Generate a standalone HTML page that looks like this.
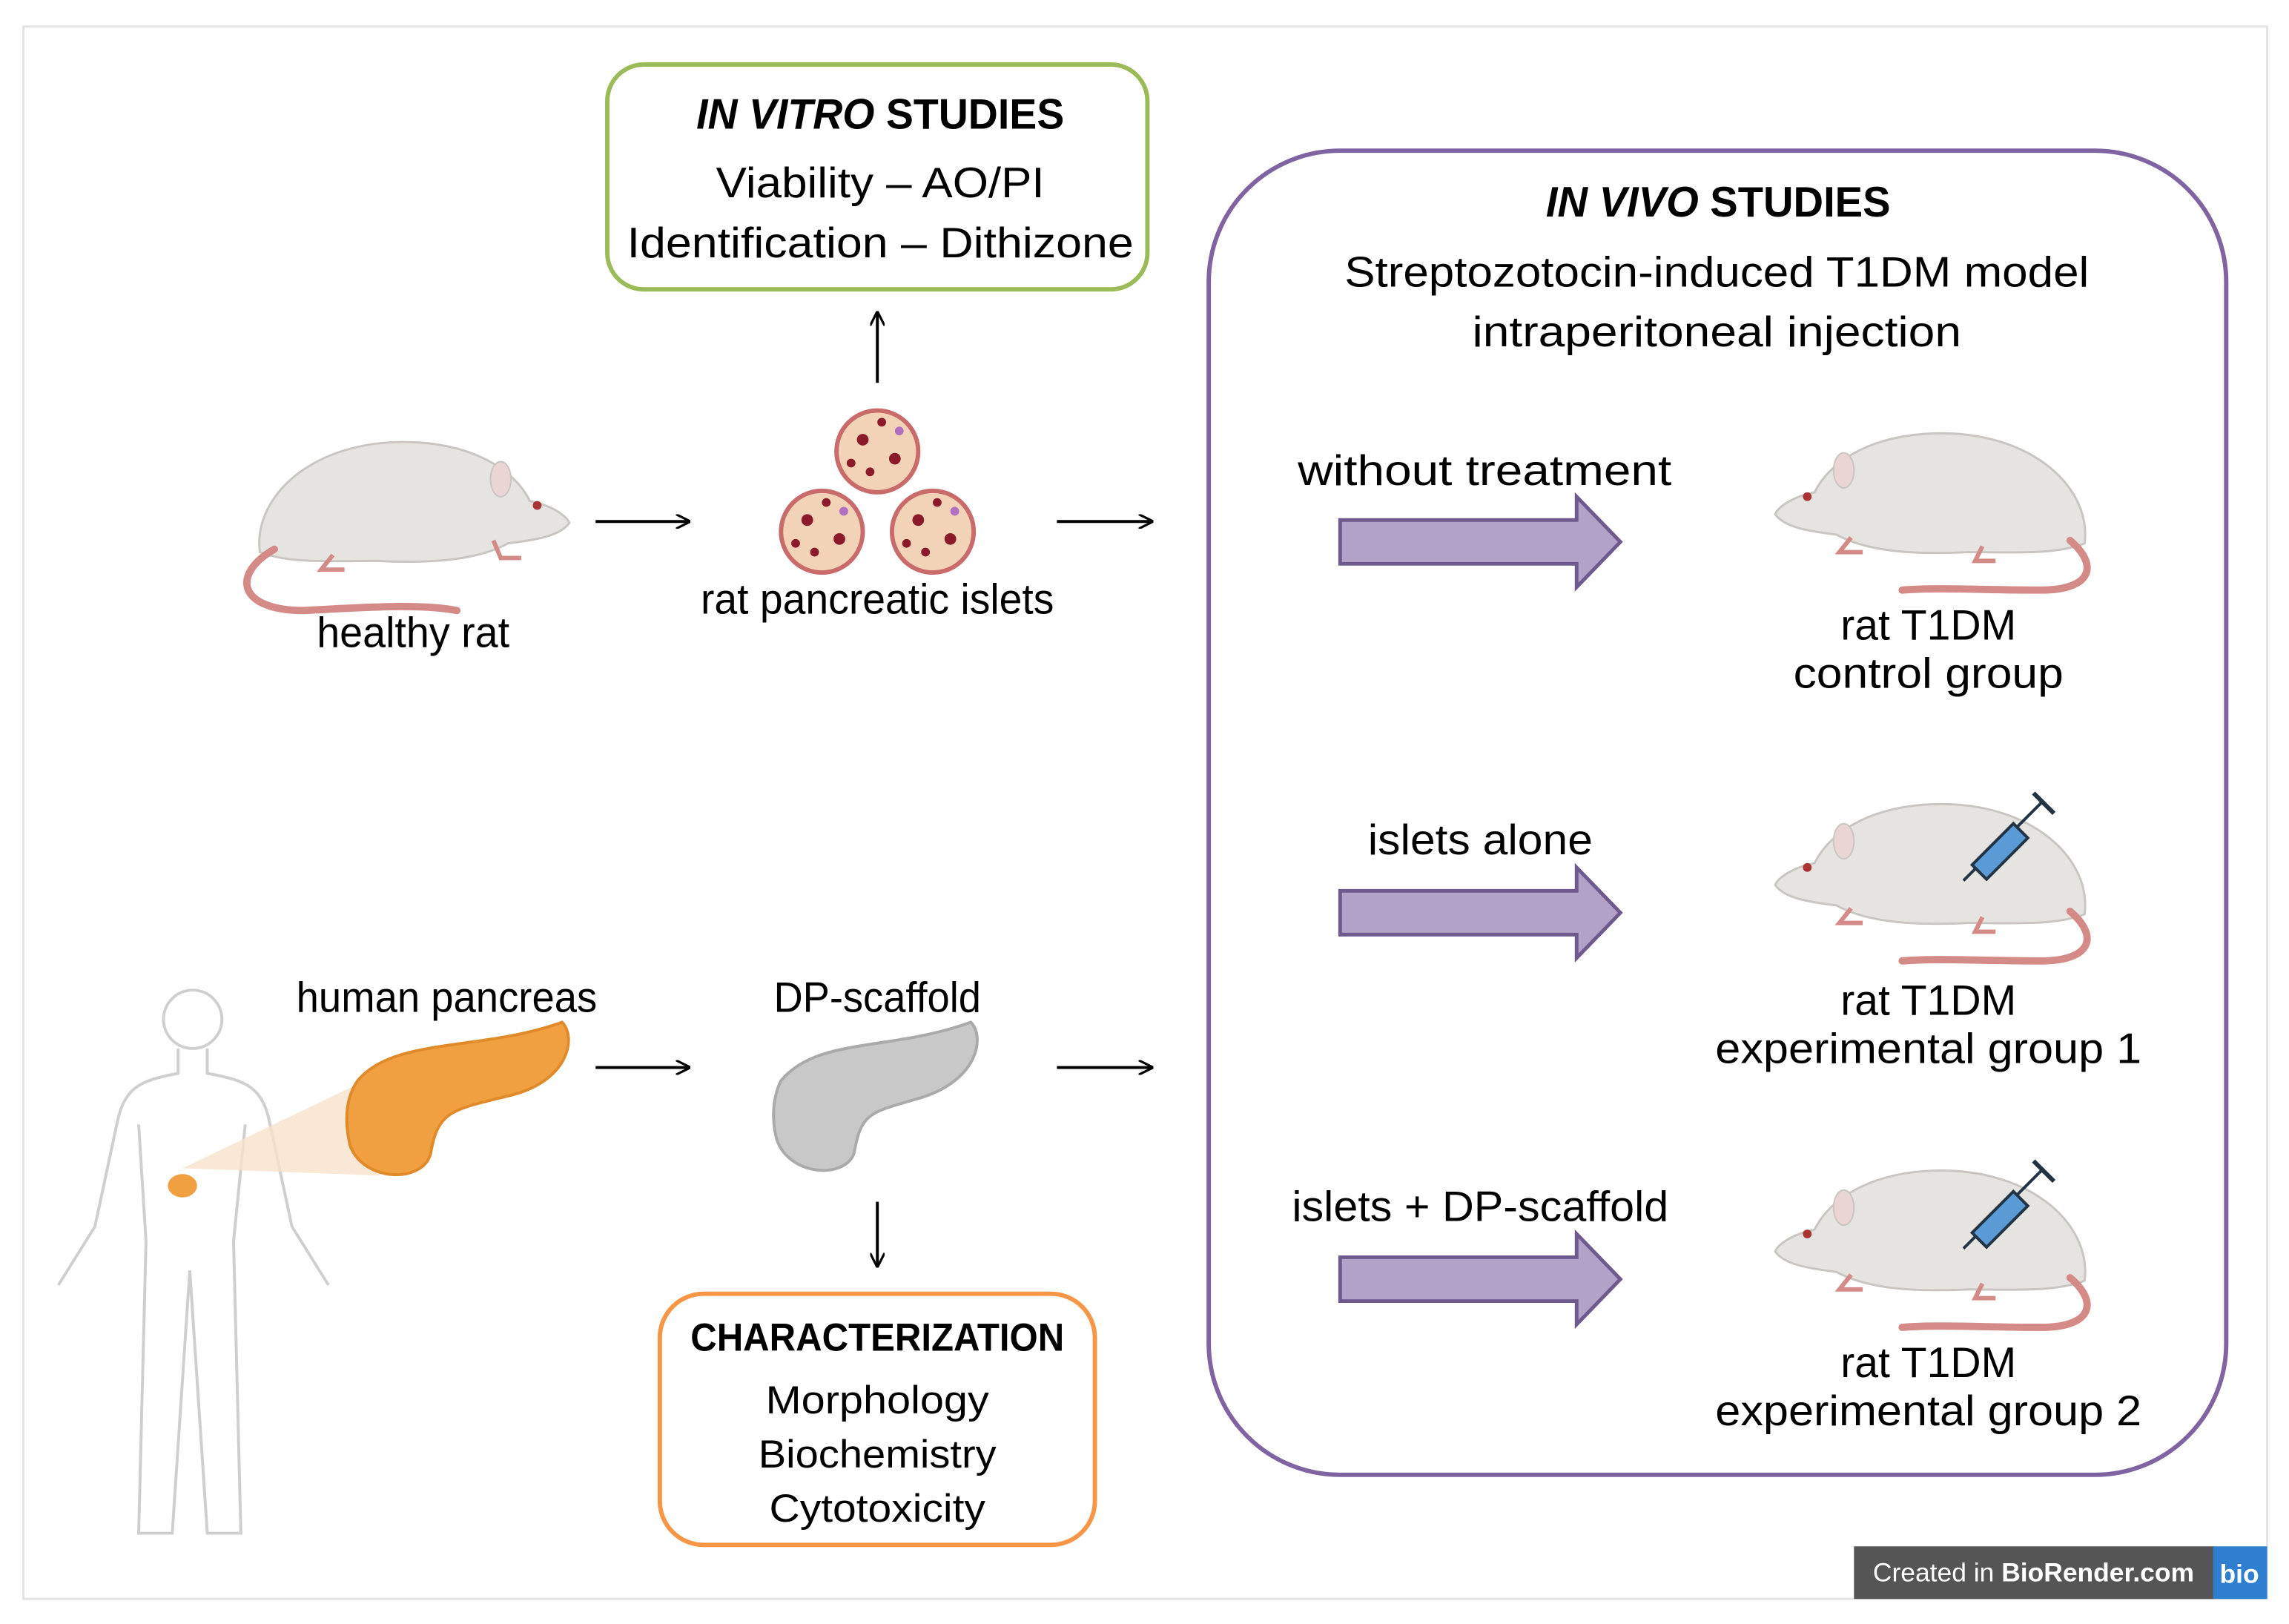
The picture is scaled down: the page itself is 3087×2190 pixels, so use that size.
<!DOCTYPE html>
<html><head><meta charset="utf-8"><style>html,body{margin:0;padding:0;background:#fff}svg{display:block}</style></head>
<body>
<svg width="3087" height="2190" viewBox="0 0 1568 1112" xmlns="http://www.w3.org/2000/svg" font-family="Liberation Sans, sans-serif">
<defs>
<marker id="ah" markerWidth="10" markerHeight="10" refX="9" refY="5" orient="auto" markerUnits="userSpaceOnUse"><path d="M0,0 L10,5 L0,10" fill="none" stroke="#000" stroke-width="1.6"/></marker>
<g id="rat">
<path d="M0,80 C-5,40 40,0 110,5 C150,8 175,25 185,45 C200,48 210,55 212,60 C205,70 185,72 170,74 C150,85 120,88 80,86 C50,86 20,88 0,80Z" fill="#e6e4e1" stroke="#c9c6c2" stroke-width="1.5"/>
<ellipse cx="165" cy="30" rx="7" ry="12" fill="#e9d6d4" stroke="#c9c6c2"/>
<circle cx="190" cy="48" r="3" fill="#a33"/>
<path d="M10,78 C-20,95 -15,120 30,120 C70,118 110,115 135,120" fill="none" stroke="#d48a86" stroke-width="5" stroke-linecap="round"/>
<path d="M50,82 l-8,10 h16 M160,72 l5,12 h14" fill="none" stroke="#d48a86" stroke-width="3"/>
</g>
<g id="ratR">
<path d="M210,80 C215,40 170,0 100,5 C60,8 35,25 25,45 C10,48 0,55 -2,60 C5,70 25,72 40,74 C60,85 90,88 130,86 C160,86 190,88 210,80Z" fill="#e6e4e1" stroke="#c9c6c2" stroke-width="1.5"/>
<ellipse cx="45" cy="30" rx="7" ry="12" fill="#e9d6d4" stroke="#c9c6c2"/>
<circle cx="20" cy="48" r="3" fill="#a33"/>
<path d="M200,78 C220,95 215,112 180,112 C140,112 110,110 85,112" fill="none" stroke="#d48a86" stroke-width="5" stroke-linecap="round"/>
<path d="M50,76 l-8,10 h16 M140,82 l-5,10 h14" fill="none" stroke="#d48a86" stroke-width="3"/>
</g>
<g id="syr">
<line x1="0" y1="60" x2="55" y2="5" stroke="#234" stroke-width="2"/>
<rect x="18" y="20" width="14" height="40" fill="#5b9bd5" stroke="#234" stroke-width="2" transform="rotate(45 25 40)"/>
<line x1="48" y1="0" x2="62" y2="14" stroke="#234" stroke-width="3"/>
</g>
<g id="isl"><circle r="28" fill="#f3d3b8" stroke="#c96b6b" stroke-width="3"/><circle cx="-10" cy="-8" r="4" fill="#8b1a2a"/><circle cx="12" cy="5" r="4" fill="#8b1a2a"/><circle cx="-5" cy="14" r="3" fill="#8b1a2a"/><circle cx="15" cy="-14" r="3" fill="#b06fbf"/><circle cx="-18" cy="8" r="3" fill="#8b1a2a"/><circle cx="3" cy="-20" r="3" fill="#8b1a2a"/></g>
</defs>
<rect x="16" y="18" width="1537" height="1077" fill="#fff" stroke="#e4e4e4" stroke-width="1.5"/>

<rect x="416" y="44" width="370" height="154" rx="25" fill="#fff" stroke="#9bbb59" stroke-width="3"/>
<g font-size="29" text-anchor="middle" fill="#000">
<text x="603" y="88" font-weight="bold" textLength="252" lengthAdjust="spacingAndGlyphs"><tspan font-style="italic">IN VITRO</tspan> STUDIES</text>
<text x="603" y="135" textLength="225" lengthAdjust="spacingAndGlyphs">Viability – AO/PI</text>
<text x="603" y="176" textLength="347" lengthAdjust="spacingAndGlyphs">Identification – Dithizone</text>
</g>
<line x1="601" y1="262" x2="601" y2="214" stroke="#000" stroke-width="2" marker-end="url(#ah)"/>

<rect x="828" y="103" width="697" height="907" rx="90" fill="#fff" stroke="#8064a2" stroke-width="3"/>
<g font-size="29" text-anchor="middle" fill="#000">
<text x="1177" y="148" font-weight="bold" textLength="236" lengthAdjust="spacingAndGlyphs"><tspan font-style="italic">IN VIVO</tspan> STUDIES</text>
<text x="1176" y="196" textLength="510" lengthAdjust="spacingAndGlyphs">Streptozotocin-induced T1DM model</text>
<text x="1176" y="237" textLength="335" lengthAdjust="spacingAndGlyphs">intraperitoneal injection</text>
<text x="1017" y="332" textLength="256" lengthAdjust="spacingAndGlyphs">without treatment</text>
<text x="1014" y="585" textLength="154" lengthAdjust="spacingAndGlyphs">islets alone</text>
<text x="1014" y="836" textLength="258" lengthAdjust="spacingAndGlyphs">islets + DP-scaffold</text>
<text x="1321" y="438">rat T1DM</text>
<text x="1321" y="471" textLength="185" lengthAdjust="spacingAndGlyphs">control group</text>
<text x="1321" y="695">rat T1DM</text>
<text x="1321" y="728" textLength="292" lengthAdjust="spacingAndGlyphs">experimental group 1</text>
<text x="1321" y="943">rat T1DM</text>
<text x="1321" y="976" textLength="292" lengthAdjust="spacingAndGlyphs">experimental group 2</text>
<text x="283" y="443" textLength="132" lengthAdjust="spacingAndGlyphs">healthy rat</text>
<text x="601" y="420" textLength="242" lengthAdjust="spacingAndGlyphs">rat pancreatic islets</text>
<text x="306" y="693" textLength="206" lengthAdjust="spacingAndGlyphs">human pancreas</text>
<text x="601" y="693" textLength="142" lengthAdjust="spacingAndGlyphs">DP-scaffold</text>
</g>
<g fill="#b3a2c7" stroke="#6f5a8e" stroke-width="2.5">
<path d="M918,356 H1080 V340 L1110,371 L1080,402 V386 H918Z"/>
<path d="M918,610 H1080 V594 L1110,625 L1080,656 V640 H918Z"/>
<path d="M918,861 H1080 V845 L1110,876 L1080,907 V891 H918Z"/>
</g>

<use href="#rat" x="178" y="298"/>
<use href="#ratR" x="1218" y="292"/>
<use href="#ratR" x="1218" y="546"/>
<use href="#ratR" x="1218" y="797"/>
<use href="#syr" x="1345" y="543"/>
<use href="#syr" x="1345" y="795"/>

<use href="#isl" x="601" y="309"/>
<use href="#isl" x="563" y="364"/>
<use href="#isl" x="639" y="364"/>

<g stroke="#000" stroke-width="2">
<line x1="408" y1="357" x2="472" y2="357" marker-end="url(#ah)"/>
<line x1="724" y1="357" x2="789" y2="357" marker-end="url(#ah)"/>
<line x1="408" y1="731" x2="472" y2="731" marker-end="url(#ah)"/>
<line x1="724" y1="731" x2="789" y2="731" marker-end="url(#ah)"/>
<line x1="601" y1="823" x2="601" y2="867" marker-end="url(#ah)"/>
</g>

<g fill="none" stroke="#cfcfcf" stroke-width="2">
<circle cx="132" cy="698" r="20"/>
<path d="M122,718 V735 C95,740 85,745 80,770 L65,840 L40,880 M142,718 V735 C170,740 180,745 185,770 L200,840 L225,880 M95,770 L100,850 L95,1050 H118 L130,870 L142,1050 H165 L160,850 L168,770"/>
</g>
<path d="M125,800 L250,740 L260,805Z" fill="#f8e2cc" opacity="0.8"/>
<ellipse cx="125" cy="812" rx="10" ry="8" fill="#f0a040"/>
<path d="M245,740 C270,710 330,720 385,700 C395,710 390,740 350,750 C310,760 300,760 295,790 C290,810 250,810 240,785 C235,765 238,750 245,740Z" fill="#f0a040" stroke="#e08a2a" stroke-width="2"/>
<path d="M535,740 C560,710 610,720 665,700 C675,710 670,740 630,752 C595,762 590,762 585,790 C578,808 540,805 532,780 C528,765 530,750 535,740Z" fill="#c8c8c8" stroke="#aaa" stroke-width="2"/>

<rect x="452" y="886" width="298" height="172" rx="30" fill="#fff" stroke="#f79646" stroke-width="3"/>
<g font-size="27" text-anchor="middle" fill="#000">
<text x="601" y="925" font-weight="bold" textLength="256" lengthAdjust="spacingAndGlyphs">CHARACTERIZATION</text>
<text x="601" y="968" textLength="153" lengthAdjust="spacingAndGlyphs">Morphology</text>
<text x="601" y="1005" textLength="163" lengthAdjust="spacingAndGlyphs">Biochemistry</text>
<text x="601" y="1042" textLength="148" lengthAdjust="spacingAndGlyphs">Cytotoxicity</text>
</g>

<rect x="1270" y="1059" width="247" height="36" fill="#555"/>
<rect x="1516" y="1059" width="37" height="36" fill="#2f7fd1"/>
<text x="1393" y="1083" font-size="18" fill="#fff" text-anchor="middle">Created in <tspan font-weight="bold">BioRender.com</tspan></text>
<text x="1534" y="1084" font-size="18" fill="#fff" font-weight="bold" text-anchor="middle">bio</text>
</svg>
</body></html>
